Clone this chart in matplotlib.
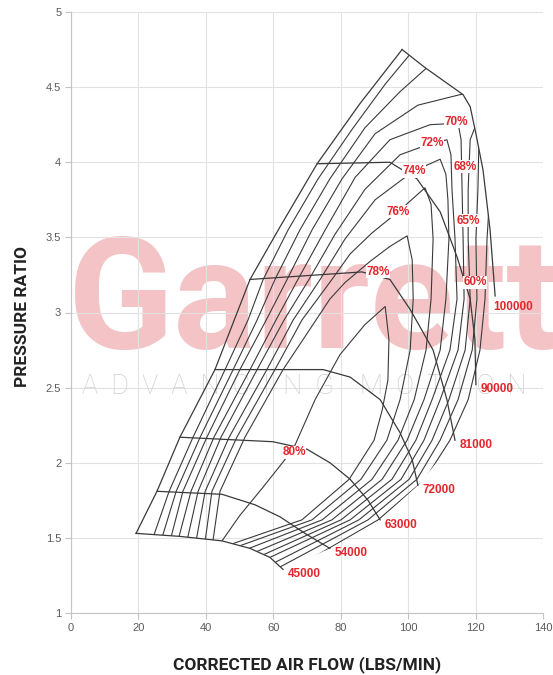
import matplotlib
matplotlib.use("Agg")
import matplotlib.pyplot as plt
from matplotlib.patches import Polygon

plt.rcParams["font.family"] = ["Liberation Sans", "DejaVu Sans"]

# surge line (left edge of the map)
surge_x = [19.3, 25.5, 32.3, 42.7, 53.1, 62.0, 73.0, 85.7, 98.2]
surge_y = [1.53, 1.81, 2.17, 2.62, 3.22, 3.57, 3.99, 4.39, 4.75]

# speed lines (rpm)
speed_labels = ["45000", "54000", "63000", "72000", "81000", "90000", "100000"]
s45_x = [19.3, 32.3, 44.8, 53.1, 59.0, 62.9]
s45_y = [1.53, 1.51, 1.48, 1.43, 1.37, 1.29]
s54_x = [25.5, 44.8, 54.6, 62.0, 69.4, 76.8]
s54_y = [1.81, 1.79, 1.72, 1.64, 1.53, 1.43]
s63_x = [32.3, 59.9, 70.0, 76.8, 82.8, 88.1, 91.7]
s63_y = [2.17, 2.14, 2.09, 2.00, 1.89, 1.75, 1.62]
s72_x = [42.7, 74.8, 82.8, 91.7, 97.6, 101.2, 102.9]
s72_y = [2.62, 2.62, 2.57, 2.42, 2.20, 2.02, 1.85]
s81_x = [53.1, 86.3, 94.6, 100.6, 107.4, 111.5, 113.9]
s81_y = [3.22, 3.27, 3.22, 3.02, 2.75, 2.42, 2.15]
s90_x = [73.0, 94.6, 102.6, 109.5, 114.5, 118.4, 119.8, 120.1]
s90_y = [3.99, 4.00, 3.89, 3.67, 3.37, 3.09, 2.82, 2.52]
s100_x = [98.2, 105.0, 116.3, 118.4, 120.1, 122.2, 124.3, 125.8]
s100_y = [4.75, 4.63, 4.45, 4.37, 4.19, 3.95, 3.55, 3.11]

# efficiency contours
e60_x = [24.0, 29.1, 36.2, 45.7, 52.5, 57.0, 64.4, 73.3, 83.4, 93.2, 100.6, 105.0, 127.3,
         124.9, 124.3, 123.4, 122.8, 121.3, 117.8, 112.4, 105.0, 91.1, 64.1]
e60_y = [1.48, 1.81, 2.17, 2.62, 2.95, 3.22, 3.55, 3.89, 4.22, 4.52, 4.72, 4.85, 4.42,
         4.15, 3.82, 3.49, 3.09, 2.75, 2.42, 2.15, 1.89, 1.62, 1.27]
e65_x = [26.7, 31.2, 38.3, 48.1, 55.2, 60.5, 67.9, 76.8, 87.2, 97.6, 105.6, 112.4, 124.3,
         121.0, 120.7, 120.1, 120.4, 119.0, 114.8, 109.5, 102.6, 88.1, 62.3]
e65_y = [1.48, 1.81, 2.17, 2.62, 2.95, 3.22, 3.55, 3.89, 4.23, 4.47, 4.63, 4.75, 4.49,
         4.15, 3.82, 3.49, 3.09, 2.75, 2.42, 2.15, 1.89, 1.62, 1.31]
e68_x = [29.4, 33.2, 40.3, 50.1, 57.9, 64.1, 71.5, 80.4, 90.2, 102.9, 115.4, 122.8, 121.3,
         118.4, 117.8, 117.8, 118.4, 116.9, 112.1, 107.1, 100.3, 85.4, 60.8]
e68_y = [1.48, 1.81, 2.17, 2.62, 2.95, 3.22, 3.55, 3.89, 4.19, 4.38, 4.45, 4.47, 4.32,
         4.15, 3.82, 3.49, 3.09, 2.75, 2.42, 2.15, 1.89, 1.62, 1.34]
e70_x = [31.7, 35.6, 42.4, 53.1, 60.8, 67.3, 75.4, 84.3, 94.6, 106.5, 114.8, 115.7, 116.0,
         116.3, 116.6, 114.8, 109.5, 104.7, 97.9, 82.8, 59.0]
e70_y = [1.48, 1.81, 2.17, 2.62, 2.95, 3.22, 3.55, 3.90, 4.15, 4.25, 4.26, 4.15, 3.82,
         3.49, 3.09, 2.75, 2.42, 2.15, 1.89, 1.62, 1.37]
e72_x = [34.4, 37.7, 44.5, 55.2, 63.2, 70.6, 78.3, 87.2, 97.6, 105.0, 111.5, 112.7, 113.0,
         113.9, 114.5, 112.4, 107.1, 102.3, 95.2, 80.1, 57.3]
e72_y = [1.48, 1.81, 2.17, 2.62, 2.95, 3.22, 3.52, 3.82, 4.05, 4.11, 4.15, 4.05, 3.82,
         3.49, 3.09, 2.75, 2.42, 2.15, 1.89, 1.62, 1.39]
e74_x = [37.1, 39.8, 46.9, 58.1, 65.9, 73.9, 81.3, 90.2, 101.5, 109.5, 111.2, 111.8, 112.1,
         111.2, 109.5, 104.7, 99.7, 92.3, 77.4, 55.2]
e74_y = [1.48, 1.81, 2.17, 2.62, 2.95, 3.22, 3.49, 3.75, 3.94, 4.02, 3.92, 3.75, 3.49,
         3.09, 2.75, 2.42, 2.15, 1.89, 1.62, 1.41]
e76_x = [39.8, 41.8, 49.2, 60.5, 68.5, 77.4, 82.8, 89.3, 97.0, 105.0, 106.8, 107.4, 106.8,
         105.3, 101.8, 97.0, 89.3, 74.5, 52.8]
e76_y = [1.48, 1.81, 2.17, 2.62, 2.95, 3.22, 3.39, 3.53, 3.67, 3.83, 3.72, 3.49, 3.09,
         2.75, 2.42, 2.15, 1.89, 1.62, 1.43]
e78_x = [42.1, 44.2, 51.6, 62.9, 70.9, 76.8, 81.3, 88.7, 94.6, 99.7, 101.2, 101.5, 100.6,
         97.6, 93.7, 86.0, 71.5, 50.4]
e78_y = [1.48, 1.81, 2.17, 2.62, 2.89, 3.09, 3.20, 3.34, 3.44, 3.51, 3.35, 3.09, 2.75,
         2.42, 2.15, 1.89, 1.62, 1.45]
e80_x = [44.8, 50.1, 56.7, 65.9, 72.4, 79.8, 87.2, 93.2, 94.3, 94.0, 92.3, 89.9, 82.5,
         68.5, 47.8]
e80_y = [1.48, 1.65, 1.83, 2.09, 2.42, 2.72, 2.92, 3.04, 2.82, 2.55, 2.35, 2.15, 1.89,
         1.62, 1.46]

# efficiency labels as printed on the map
eff_labels = ["70%", "72%", "74%", "76%", "78%", "80%", "68%", "65%", "60%"]
eff_lab_x = [114.2, 107.1, 101.7, 97.0, 91.1, 66.2, 116.9, 117.8, 119.8]
eff_lab_y = [4.27, 4.13, 3.94, 3.67, 3.27, 2.07, 3.97, 3.61, 3.20]

x_ticks = [0, 20, 40, 60, 80, 100, 120, 140]
y_ticks = [1, 1.5, 2, 2.5, 3, 3.5, 4, 4.5, 5]
y_tick_labels = ["1", "1.5", "2", "2.5", "3", "3.5", "4", "4.5", "5"]

RED = "#e4262c"
INK = "#3a3a3a"

fig = plt.figure(figsize=(5.53, 6.75), dpi=100)
ax = fig.add_axes([71 / 553, 62 / 675, 472 / 553, 601 / 675])
ax.set_xlim(0, 140)
ax.set_ylim(1, 5)
ax.set_xticks(x_ticks)
ax.set_yticks(y_ticks)
ax.set_yticklabels(y_tick_labels)
ax.grid(True, color="#e2e2e2", lw=0.8)
ax.set_axisbelow(True)
for s in ["top", "right"]:
    ax.spines[s].set_visible(False)
for s in ["left", "bottom"]:
    ax.spines[s].set_color("#c4c4c4")
ax.tick_params(colors="#c4c4c4", labelcolor="#5a5a5a", labelsize=8, length=4, pad=3)

# watermark
ax.text(-0.006, 0.441, "Garrett", transform=ax.transAxes, fontsize=112,
        family=["Roboto", "DejaVu Sans"], fontweight="bold", color="#f4c3c5",
        ha="left", va="baseline", zorder=0.5, clip_on=False)
ax.text(0.023, 0.365, "A  D  V  A  N  C  I  N  G    M  O  T  I  O  N", transform=ax.transAxes,
        fontsize=19.5, family=["Roboto", "DejaVu Sans"], fontweight="light",
        color="#d0d0d0", ha="left", va="baseline", zorder=0.6)

# map outline used to clip the efficiency islands
speeds = [(s45_x, s45_y), (s54_x, s54_y), (s63_x, s63_y), (s72_x, s72_y),
          (s81_x, s81_y), (s90_x, s90_y), (s100_x, s100_y)]
bx = surge_x + s100_x[1:] + [s[0][-1] for s in speeds[-2:0:-1]] + s45_x[::-1]
by = surge_y + s100_y[1:] + [s[1][-1] for s in speeds[-2:0:-1]] + s45_y[::-1]
outline = Polygon(list(zip(bx, by)), closed=True, fill=False, lw=0,
                  transform=ax.transData)
ax.add_patch(outline)

effs = [(e60_x, e60_y), (e65_x, e65_y), (e68_x, e68_y), (e70_x, e70_y), (e72_x, e72_y),
        (e74_x, e74_y), (e76_x, e76_y), (e78_x, e78_y), (e80_x, e80_y)]
for ex, ey in effs:
    ln, = ax.plot(ex, ey, color=INK, lw=0.8, zorder=2, solid_joinstyle="round")
    ln.set_clip_path(outline)

ax.plot(surge_x, surge_y, color=INK, lw=0.9, zorder=3)
for (sx, sy), lab in zip(speeds, speed_labels):
    ax.plot(sx, sy, color=INK, lw=0.9, zorder=3)
    off = (-1.5, -8) if lab == "100000" else (3.5, -3.5)
    ax.annotate(lab, (sx[-1], sy[-1]), xytext=off, textcoords="offset points",
                ha="left", va="center", fontsize=8.5, fontweight="bold", color=RED,
                zorder=5)

for lab, lx, ly in zip(eff_labels, eff_lab_x, eff_lab_y):
    ax.text(lx, ly, lab, ha="center", va="center", fontsize=8.5, fontweight="bold",
            color=RED, zorder=5,
            bbox=dict(facecolor="white", edgecolor="none", pad=0.3))

axis_font = ["Roboto", "Liberation Sans", "DejaVu Sans"]
fig.text(307 / 553, 1 - 665 / 675, "CORRECTED AIR FLOW (LBS/MIN)", ha="center",
         va="center", fontsize=12.5, fontweight="bold", family=axis_font, color="#222222")
fig.text(23 / 553, 1 - 316 / 675, "PRESSURE RATIO", ha="center", va="center",
         rotation=90, fontsize=12.5, fontweight="bold", family=axis_font, color="#222222")

fig.savefig("out.png", dpi=100)
